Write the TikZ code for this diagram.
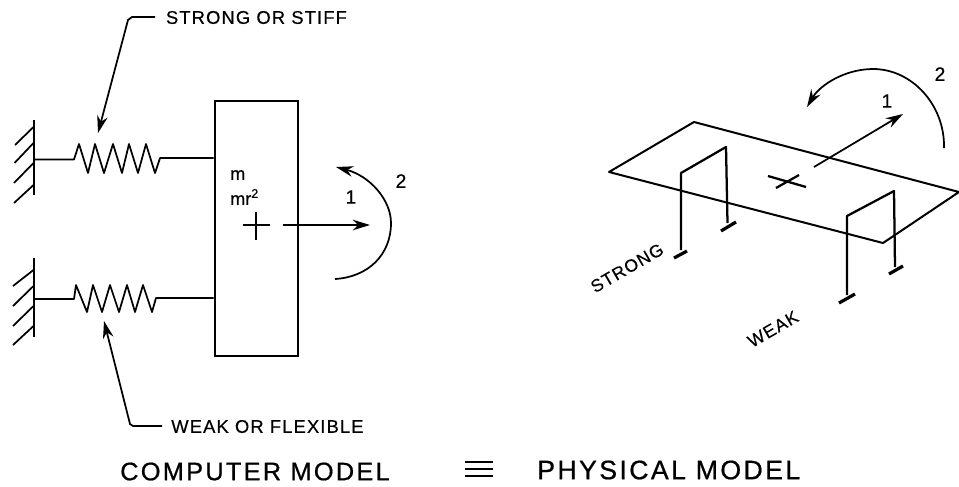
\documentclass[tikz,border=0pt]{standalone}
\usepackage{fontspec}
\usetikzlibrary{arrows.meta}
\setmainfont[FakeBold=0.4]{Liberation Sans}
\newfontfamily\lblA[LetterSpace=6,FakeBold=0.4]{Liberation Sans}
\newfontfamily\lblB[LetterSpace=9,FakeBold=0.7]{Liberation Sans}
\tikzset{
  x=0.75pt,y=-0.75pt,
  thinline/.style={line width=1.3pt,line join=round},
  heavy/.style={line width=1.7pt,line join=round},
  tiparrow/.style={line width=1.3pt,-{Stealth[length=13pt,width=8pt]}},
  small/.style={inner sep=0pt,anchor=west,font=\lblA\fontsize{13.8}{15}\selectfont},
  big/.style={inner sep=0pt,anchor=west,font=\lblB\fontsize{19}{22}\selectfont},
  num/.style={inner sep=0pt,font=\fontsize{14.5}{16}\selectfont},
  rot/.style={inner sep=0pt,rotate=30,font=\lblA\fontsize{13.2}{15}\selectfont},
}
\begin{document}
\begin{tikzpicture}
\useasboundingbox (0,0) rectangle (959,486);
% mass block
\node[draw,line width=1.7pt,inner sep=0pt,minimum width=83pt*0.75,minimum height=255pt*0.75,anchor=north west] (box) at (213.5,100) {};
% walls
\coordinate (w1t) at (34,120); \coordinate (w1b) at (34,195);
\coordinate (w2t) at (34,258); \coordinate (w2b) at (34,337);
\draw[heavy] (w1t) -- (w1b);
\draw[heavy] (w2t) -- (w2b);
\draw[thinline]
  (33.5,127)--(15,145) (33.5,143)--(14.5,163) (33.5,163)--(14,183) (33.5,185)--(14,203)
  (33.5,270)--(13,286) (33.5,286)--(13,306) (33.5,306)--(13,326) (33.5,326)--(13,345);
% springs
\coordinate (s1) at (34,159.5); \coordinate (s2) at (34,299);
\draw[thinline] (s1) -- (74,159.5) -- (79,144) -- (88,173) -- (95,144) -- (104,173) -- (113,144) -- (122,173) -- (129,144) -- (138,173) -- (146,144) -- (155,173) -- (160,158) -- (213.5,158);
\draw[thinline] (s2) -- (74,299) -- (76,285) -- (87,312) -- (93,285) -- (102,312) -- (110,285) -- (119,312) -- (127,285) -- (135,312) -- (143,285) -- (152,312) -- (156,298) -- (213.5,298);
% leaders
\node[small] (strongstiff) at (165.7,17.5) {STRONG OR STIFF};
\node[small] (weakflex) at (171,426.5) {WEAK OR FLEXIBLE};
\coordinate (t1) at (98,133); \coordinate (t2) at (104,321);
\draw[tiparrow] (155,17) -- (132,17) -- (128,20) -- (t1);
\draw[tiparrow] (162,426) -- (133,426) -- (130,424) -- (t2);
% left annotations
\node[inner sep=0pt,anchor=west,font=\fontsize{13.5}{15}\selectfont] (m) at (230,175) {m};
\node[inner sep=0pt,anchor=west,font=\fontsize{13.5}{15}\selectfont] (mr) at (230,197) {mr\textsuperscript{2}};
\coordinate (c1) at (256,225);
\draw[heavy] (243,225) -- (270,225) (256,212) -- (256,240);
\draw[tiparrow] (283,225) -- (370,225);
\node[num] (n1l) at (351,197) {1};
\node[num] (n2l) at (401,181) {2};
\draw[thinline,-{Stealth[length=13pt,width=8pt]}] (335,279) .. controls (368,277) and (391,255) .. (391,223) .. controls (391,200) and (370,176) .. (336,167);
% bottom titles
\node[big] (cm) at (120,471.5) {COMPUTER MODEL};
\node[big,font=\lblB\fontsize{20}{22}\selectfont] (pm) at (537,470) {PHYSICAL MODEL};
\draw[heavy,line width=2.2pt] (465,462)--(493,462) (465,469)--(493,469) (465,476)--(493,476);
% plate
\coordinate (pa) at (609,172); \coordinate (pb) at (694,122); \coordinate (pc) at (959,192); \coordinate (pd) at (883,243);
\draw[thinline,line width=1.5pt] (pa) -- (pb) -- (pc) -- (pd) -- cycle;
% frames
\draw[heavy] (681,250) -- (681,173) -- (726,147) -- (727.5,223);
\draw[heavy] (847,295) -- (847,216) -- (894,191) -- (895,267);
\draw[heavy,line width=2.4pt] (674,258)--(687,251) (721,231)--(736,222) (839,303)--(855,294) (889,274)--(903,266);
% cross and arrow
\draw[heavy] (768,176)--(806,187) (776,188)--(799,175);
\draw[tiparrow] (814,167) -- (903,114);
\draw[thinline,-{Stealth[length=13pt,width=8pt]}] (944,148) .. controls (945,105) and (912,69) .. (873,69) .. controls (845,69) and (820,85) .. (807,107);
\node[num] (n1r) at (887,101) {1};
\node[num] (n2r) at (940,74) {2};
\node[rot] (strong) at (627,268) {STRONG};
\node[rot] (weak) at (773,329) {WEAK};
\end{tikzpicture}
\end{document}
